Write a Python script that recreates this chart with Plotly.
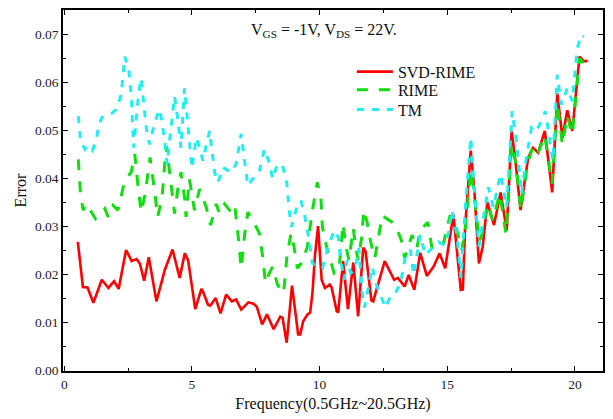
import plotly.graph_objects as go

# ---- data ----
svd_f = [0.53,0.73,0.91,1.14,1.47,1.73,1.95,2.13,2.42,2.64,2.83,2.96,3.13,3.31,3.61,3.94,4.24,4.52,4.72,4.85,
         5.13,5.37,5.43,5.63,5.72,5.93,6.12,6.34,6.56,6.73,6.93,7.21,7.41,7.54,7.75,7.94,8.2,8.46,8.55,8.71,
         8.92,9.16,9.24,9.36,9.53,9.63,9.72,9.82,9.94,10.08,10.21,10.40,10.47,10.67,10.73,10.92,11.11,11.32,11.51,11.71,
         11.8,12.03,12.1,12.55,12.92,13.07,13.33,13.49,13.71,13.94,14.2,14.46,14.7,14.92,15.24,15.53,15.61,15.70,15.92,16.06,
         16.24,16.39,16.57,16.83,17.09,17.33,17.52,17.67,17.87,18.17,18.36,18.56,18.82,19.11,19.31,19.51,19.7,19.9,20.18,20.35,
         20.5]
svd_v = [0.0267,0.0173,0.0172,0.0140,0.0188,0.0171,0.0185,0.0169,0.0250,0.0227,0.0231,0.0222,0.0186,0.0235,0.0143,0.0209,0.0251,0.0192,0.0243,0.0229,
         0.0127,0.0169,0.0164,0.0136,0.0134,0.0150,0.0118,0.0157,0.0143,0.0147,0.0126,0.0141,0.0138,0.0132,0.0095,0.0116,0.0085,0.0111,0.0109,0.0057,
         0.0176,0.0074,0.0074,0.0102,0.0116,0.0120,0.0160,0.0240,0.0300,0.0188,0.0171,0.0178,0.0172,0.0123,0.0120,0.0227,0.0127,0.0224,0.0112,0.0255,
         0.0247,0.0145,0.0143,0.0227,0.0188,0.0192,0.0174,0.0198,0.0167,0.0244,0.0196,0.0215,0.0243,0.0212,0.0324,0.0167,0.0168,0.0298,0.0457,0.0374,
         0.0222,0.0257,0.0350,0.0302,0.0370,0.0291,0.0498,0.0436,0.0333,0.0443,0.0463,0.0453,0.0498,0.0370,0.0577,0.0484,0.0541,0.0498,0.0653,0.0643,
         0.0644]

rime_f = [0.55,0.64,0.74,0.87,1.22,1.35,1.59,1.72,1.91,2.1,2.37,2.62,2.76,2.88,3.01,3.17,3.36,3.50,3.66,3.83,
          3.99,4.12,4.32,4.44,4.57,4.71,4.77,4.9,5.1,5.3,5.56,5.73,5.95,6.08,6.28,6.47,6.67,6.8,6.93,7.06,
          7.19,7.45,7.64,7.77,7.88,8.03,8.16,8.35,8.59,8.72,8.88,9.0,9.13,9.33,9.52,9.72,9.91,10.05,10.11,10.3,
          10.57,10.76,10.92,11.02,11.15,11.32,11.41,11.51,11.65,11.73,11.86,12.0,12.16,12.29,12.45,12.84,12.99,13.2,13.33,13.62,
          13.81,13.94,14.24,14.4,14.63,14.85,15.11,15.31,15.57,15.70,15.92,16.06,16.25,16.37,16.58,16.78,17.06,17.3,17.52,17.69,
          17.88,18.14,18.36,18.56,18.82,19.11,19.31,19.51,19.7,19.9,20.18,20.38]
rime_v = [0.0439,0.0364,0.0333,0.0346,0.0315,0.0322,0.0336,0.0319,0.0343,0.0333,0.0395,0.0412,0.0450,0.0388,0.0329,0.0367,0.0443,0.0388,0.0319,0.0360,
          0.0467,0.0415,0.0326,0.0374,0.0412,0.0360,0.0319,0.0398,0.0333,0.0377,0.0339,0.0302,0.0346,0.0326,0.0346,0.0333,0.0346,0.0285,0.0212,0.0281,
          0.0329,0.0305,0.0285,0.0236,0.0181,0.0202,0.0215,0.0178,0.0160,0.0236,0.0285,0.0257,0.0212,0.0226,0.0257,0.0333,0.0391,0.0360,0.0298,0.0250,
          0.0202,0.0209,0.0305,0.0260,0.0229,0.0295,0.0257,0.0229,0.0277,0.0333,0.0308,0.0267,0.0233,0.0271,0.0322,0.0308,0.0298,0.0271,0.0233,0.0281,
          0.0254,0.0291,0.0308,0.0254,0.0264,0.0264,0.0322,0.0305,0.0250,0.0291,0.0415,0.0367,0.0267,0.0284,0.0346,0.0312,0.0367,0.0284,0.0470,0.0429,
          0.0333,0.0429,0.0467,0.0453,0.0488,0.0388,0.0556,0.0470,0.0529,0.0491,0.0649,0.0636]

tm_f = [0.55,0.64,0.81,0.94,1.1,1.24,1.35,1.46,1.65,1.84,2.04,2.23,2.37,2.53,2.62,2.72,2.82,2.91,3.01,3.08,
        3.21,3.34,3.54,3.73,3.82,3.93,4.03,4.18,4.32,4.44,4.57,4.71,4.80,4.87,5.0,5.17,5.3,5.43,5.69,5.89,
        6.02,6.21,6.54,6.73,6.93,7.06,7.19,7.38,7.64,7.84,8.03,8.16,8.35,8.55,8.72,8.81,8.90,9.0,9.11,9.27,
        9.4,9.59,9.72,9.91,10.11,10.3,10.57,10.73,10.83,10.96,11.08,11.22,11.38,11.54,11.67,11.76,11.93,12.06,12.25,12.45,
        12.58,12.78,12.97,13.17,13.36,13.56,13.68,13.81,13.94,14.14,14.4,14.66,14.89,15.05,15.18,15.37,15.54,15.70,15.92,16.06,
        16.24,16.61,16.8,17.09,17.33,17.54,17.71,17.91,18.1,18.3,18.49,18.69,18.84,19.14,19.31,19.47,19.7,19.9,20.09,20.25,
        20.35]
tm_v = [0.0529,0.0477,0.0460,0.0467,0.0457,0.0477,0.0508,0.0525,0.0532,0.0534,0.0543,0.0574,0.0653,0.0625,0.0574,0.0463,0.0525,0.0574,0.0608,0.0567,
        0.0505,0.0470,0.0515,0.0543,0.0519,0.0477,0.0429,0.0505,0.0570,0.0525,0.0463,0.0587,0.0539,0.0491,0.0420,0.0484,0.0463,0.0436,0.0498,0.0412,
        0.0391,0.0422,0.0412,0.0429,0.0492,0.0436,0.0384,0.0398,0.0415,0.0460,0.0432,0.0398,0.0429,0.0426,0.0388,0.0333,0.0298,0.0319,0.0339,0.0353,
        0.0326,0.0271,0.0222,0.0215,0.0212,0.0250,0.0291,0.0277,0.0229,0.0188,0.0229,0.0202,0.0209,0.0254,0.0160,0.0130,0.0181,0.0215,0.0174,0.0147,
        0.0130,0.0154,0.0160,0.0181,0.0236,0.0250,0.0198,0.0240,0.0281,0.0240,0.0254,0.0267,0.0260,0.0285,0.0333,0.0284,0.0192,0.0333,0.0484,0.0374,
        0.0257,0.0381,0.0339,0.0408,0.0339,0.0539,0.0477,0.0367,0.0443,0.0505,0.0498,0.0519,0.0539,0.0436,0.0615,0.0553,0.0587,0.0560,0.0670,0.0698,
        0.0694]

assert len(svd_f) == len(svd_v), (len(svd_f), len(svd_v))
assert len(rime_f) == len(rime_v), (len(rime_f), len(rime_v))
assert len(tm_f) == len(tm_v), (len(tm_f), len(tm_v))

FONT = "Liberation Serif"

fig = go.Figure()
fig.add_trace(go.Scatter(x=svd_f, y=svd_v, mode="lines", name="SVD-RIME", legend="legend",
                         line=dict(color="#ff0000", width=2.6)))
fig.add_trace(go.Scatter(x=rime_f, y=rime_v, mode="lines", name="RIME", legend="legend2",
                         line=dict(color="#11dd11", width=3, dash="11px,11px")))
fig.add_trace(go.Scatter(x=tm_f, y=tm_v, mode="lines", name="TM", legend="legend3",
                         line=dict(color="#22eef2", width=3, dash="7px,8px")))

axis_common = dict(showline=True, linecolor="black", linewidth=1.5, mirror="allticks",
                   ticks="inside", ticklen=5, tickwidth=1.3, tickcolor="black",
                   showgrid=False, zeroline=False,
                   tickfont=dict(family=FONT, size=13.5, color="#222"))

fig.update_xaxes(range=[-0.05, 21.1], dtick=5, tick0=0,
                 minor=dict(dtick=2.5, ticks="inside", ticklen=3, tickcolor="black", tickwidth=1),
                 title=dict(text="Frequency(0.5GHz~20.5GHz)", font=dict(family=FONT, size=16, color="#111"), standoff=7),
                 **axis_common)
fig.update_yaxes(range=[-0.0002, 0.075], dtick=0.01, tick0=0, tickformat=".2f",
                 minor=dict(dtick=0.005, ticks="inside", ticklen=3, tickcolor="black", tickwidth=1),
                 title=dict(text="Error", font=dict(family=FONT, size=16, color="#111"), standoff=4),
                 **axis_common)

fig.add_annotation(xref="paper", yref="paper", x=0.483, y=0.975, showarrow=False,
                   text="V<sub>GS</sub> = -1V, V<sub>DS</sub> = 22V.",
                   font=dict(family=FONT, size=16, color="#111"))

leg_common = dict(x=0.535, xanchor="left", yanchor="middle", bgcolor="rgba(0,0,0,0)",
                  font=dict(family=FONT, size=16, color="#111"), itemwidth=36)

fig.update_layout(
    width=613, height=419,
    margin=dict(l=63, r=8, t=8, b=48),
    paper_bgcolor="white", plot_bgcolor="white",
    showlegend=True,
    legend=dict(y=0.829, **leg_common),
    legend2=dict(y=0.779, **leg_common),
    legend3=dict(y=0.724, **leg_common),
)

fig.write_html("out.html")
